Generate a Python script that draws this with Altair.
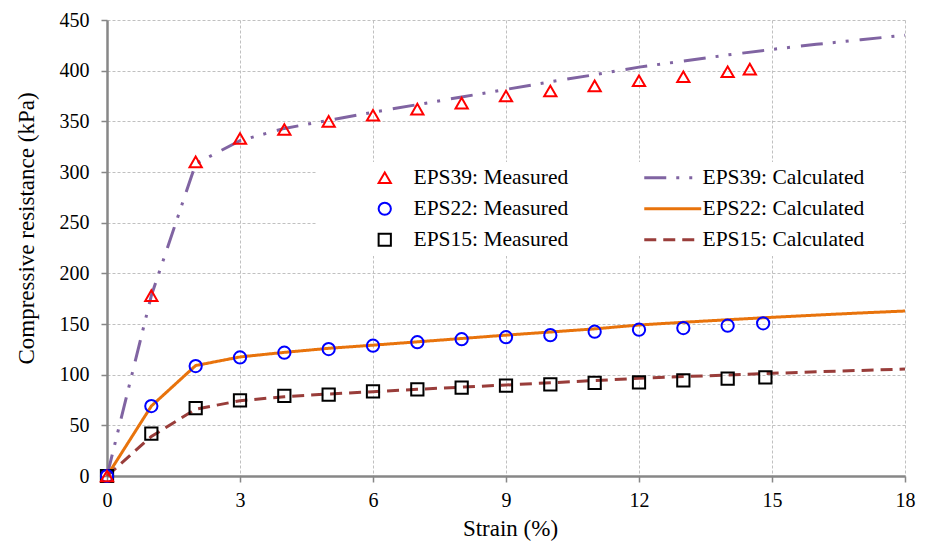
import altair as alt
import pandas as pd

# Measured compressive resistance of EPS geofoam samples
strain_eps39_m = [0, 1, 2, 3, 4, 5, 6, 7, 8, 9, 10, 11, 12, 13, 14, 14.5]
eps39_measured = [0, 178, 310, 333, 342, 350, 356, 362, 368, 375, 380, 385, 390, 394, 399, 401.5]

strain_eps22_m = [0, 1, 2, 3, 4, 5, 6, 7, 8, 9, 10, 11, 12, 13, 14, 14.8]
eps22_measured = [0, 69, 108.5, 117, 121.7, 125.3, 128.6, 132, 135, 137, 139, 142.4, 144.4, 146, 148.3, 150.7]

strain_eps15_m = [0, 1, 2, 3, 4, 5, 6, 7, 8, 9, 10, 11, 12, 13, 14, 14.85]
eps15_measured = [0, 41.8, 67, 74.7, 79, 80.3, 83.6, 85.5, 87.2, 89.2, 90.5, 92, 92.4, 94.4, 96, 97.4]

# Calculated curves
strain_calc = list(range(0, 19))
eps39_calc = [0, 178, 308, 331, 343, 351, 359, 366.5, 374, 381.5, 389, 396, 403.5, 409.5, 415.5, 421, 426, 430.5, 435]
eps22_calc = [0, 69, 109, 117.5, 122, 126, 129.1, 132.4, 135.7, 139, 142.1, 145.2, 149, 151.7, 154.2, 156.6, 158.8, 160.9, 162.8]
eps15_calc = [0, 39, 66, 74.3, 78.2, 80.9, 83.2, 85.5, 87.7, 89.8, 92, 94.2, 96.4, 98.1, 99.7, 101.3, 102.8, 104.2, 105.6]

measured_names = ["EPS39: Measured", "EPS22: Measured", "EPS15: Measured"]
calc_names = ["EPS39: Calculated", "EPS22: Calculated", "EPS15: Calculated"]

# Points drawn EPS15 first so the triangles end up on top
rows = []
for name, xs, ys in [
    (measured_names[2], strain_eps15_m, eps15_measured),
    (measured_names[1], strain_eps22_m, eps22_measured),
    (measured_names[0], strain_eps39_m, eps39_measured),
]:
    rows += [{"strain": x, "resistance": y, "series": name} for x, y in zip(xs, ys)]
measured_df = pd.DataFrame(rows)

rows = []
for name, ys in zip(calc_names, [eps39_calc, eps22_calc, eps15_calc]):
    rows += [{"strain": x, "resistance": y, "series": name} for x, y in zip(strain_calc, ys)]
calc_df = pd.DataFrame(rows)

FONT = "Liberation Serif"

x_enc = alt.X(
    "strain:Q",
    scale=alt.Scale(domain=[0, 18], nice=False),
    axis=alt.Axis(
        values=[0, 3, 6, 9, 12, 15, 18],
        title="Strain (%)",
        titleX=403,
        titleY=59,
        titleAlign="center",
        titleBaseline="alphabetic",
    ),
)
y_enc = alt.Y(
    "resistance:Q",
    scale=alt.Scale(domain=[0, 450], nice=False),
    axis=alt.Axis(
        values=list(range(0, 451, 50)),
        title="Compressive resistance (kPa)",
        titleX=-74,
        titleY=208,
        titleAlign="center",
        titleAngle=270,
        titleBaseline="alphabetic",
    ),
)

legend_common = dict(
    title=None,
    orient="none",
    labelFont=FONT,
    labelFontSize=21.5,
    labelColor="black",
    labelLimit=400,
    rowPadding=8,
    padding=0,
)

point_legend = alt.Legend(
    legendX=267,
    legendY=147,
    labelOffset=18,
    symbolStrokeWidth=2,
    symbolSize=150,
    **legend_common,
)
# short horizontal stroke path, scaled by sqrt(size)/2 -> about 57 px long
line_legend = alt.Legend(
    legendX=555,
    legendY=147,
    labelOffset=19,
    symbolType="M-4.07,0H4.07",
    symbolSize=196,
    symbolStrokeWidth=3,
    **legend_common,
)

legend_box = alt.Chart(alt.Data(values=[{}])).mark_rect(color="white").encode(
    x=alt.value(210), x2=alt.value(793), y=alt.value(142), y2=alt.value(236)
)

lines = alt.Chart(calc_df).mark_line(strokeWidth=3, strokeCap="butt").encode(
    x=x_enc,
    y=y_enc,
    color=alt.Color(
        "series:N",
        scale=alt.Scale(domain=calc_names, range=["#8064A2", "#E8730C", "#993D3A"]),
        legend=line_legend,
    ),
    strokeDash=alt.StrokeDash(
        "series:N",
        scale=alt.Scale(domain=calc_names, range=[[22, 10, 3, 10, 3, 11], [1, 0], [12, 7]]),
        legend=line_legend,
    ),
)

points = alt.Chart(measured_df).mark_point(filled=False, strokeWidth=2, size=150, opacity=1).encode(
    x=x_enc,
    y=y_enc,
    color=alt.Color(
        "series:N",
        scale=alt.Scale(domain=measured_names, range=["#FF0000", "#0000FF", "#000000"]),
        legend=point_legend,
    ),
    shape=alt.Shape(
        "series:N",
        scale=alt.Scale(domain=measured_names, range=["triangle-up", "circle", "square"]),
        legend=point_legend,
    ),
)

chart = (
    alt.layer(legend_box, lines, points)
    .resolve_scale(color="independent", shape="independent", strokeDash="independent")
    .resolve_legend(color="independent", shape="independent", strokeDash="independent")
    .properties(
        width=798,
        height=456,
        autosize=alt.AutoSizeParams(type="none"),
        padding={"left": 107, "top": 20, "right": 25, "bottom": 66},
        background="white",
    )
    .configure_view(stroke=None)
    .configure_axis(
        labelFont=FONT,
        labelFontSize=20,
        labelColor="black",
        labelFlush=False,
        titleFont=FONT,
        titleFontSize=23,
        titleFontWeight="normal",
        titleColor="black",
        domainColor="#878787",
        domainWidth=2.5,
        tickColor="#878787",
        tickWidth=1.5,
        tickSize=6,
        gridColor="#C0C0C0",
        gridDash=[3, 2],
        gridWidth=1,
    )
    .configure_axisX(labelPadding=8)
    .configure_axisY(labelPadding=12)
)

chart.save("out.html", embed_options={"renderer": "svg", "actions": False})
